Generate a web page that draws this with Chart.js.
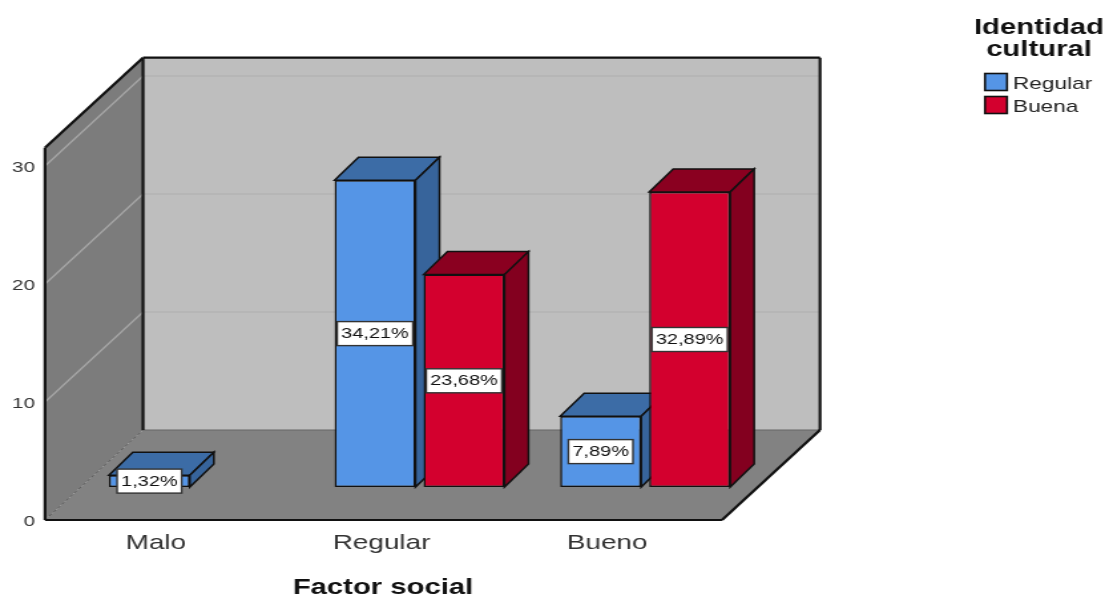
<!DOCTYPE html>
<html>
<head>
<meta charset="utf-8">
<style>
html,body{margin:0;padding:0;background:#fff;overflow:hidden}
#wrap{width:1105px;height:596px;overflow:hidden}
canvas{display:block;transform-origin:0 0;filter:blur(0.45px);}
</style>
<script src="https://cdn.jsdelivr.net/npm/chart.js@4"></script>
</head>
<body>
<div id="wrap"><canvas id="c" width="831" height="596"></canvas></div>
<script>
const categories = ['Malo', 'Regular', 'Bueno'];
const regularValues = [1, 26, 6];
const buenaValues = [null, 18, 25];
const regularPct = ['1,32%', '34,21%', '7,89%'];
const buenaPct = [null, '23,68%', '32,89%'];
const yTicks = [0, 10, 20, 30];
const seriesNames = ['Regular', 'Buena'];
const legendTitle = ['Identidad', 'cultural'];
const xTitle = 'Factor social';

const CW = 831, CH = 596, SX = 1105 / CW;
const px = v => v / SX;                 // screen x -> canvas x
const FONT = '"Liberation Sans", Arial, sans-serif';
const FRONT = { dx: px(-36), dy: 33 };
const BACK = { dx: px(62), dy: -57 };
const BAR = { dx: px(24), dy: -23 };
const WALL_TOP = 31.55;

const canvas = document.getElementById('c');
canvas.style.transform = 'scaleX(' + SX + ')';

function poly(ctx, pts, fill, stroke, lw) {
  ctx.beginPath();
  pts.forEach((p, i) => i ? ctx.lineTo(p[0], p[1]) : ctx.moveTo(p[0], p[1]));
  ctx.closePath();
  if (fill) { ctx.fillStyle = fill; ctx.fill(); }
  if (stroke) { ctx.strokeStyle = stroke; ctx.lineWidth = lw; ctx.stroke(); }
}
function line(ctx, a, b, color, lw, dash) {
  ctx.save();
  ctx.beginPath();
  ctx.moveTo(a[0], a[1]); ctx.lineTo(b[0], b[1]);
  ctx.strokeStyle = color; ctx.lineWidth = lw; ctx.setLineDash(dash || []);
  ctx.stroke();
  ctx.restore();
}

const scene3d = {
  id: 'scene3d',
  beforeDatasetsDraw(chart) {
    const { ctx, chartArea: a, scales: { y } } = chart;
    const t = y.getPixelForValue(WALL_TOP), b = a.bottom;
    const fl = a.left + FRONT.dx, fr = a.right + FRONT.dx, fb = b + FRONT.dy, ft = t + FRONT.dy;
    const bl = a.left + BACK.dx, br = a.right + BACK.dx, bb = b + BACK.dy, bt = t + BACK.dy;
    ctx.save();
    poly(ctx, [[bl, bt], [br, bt], [br, bb], [bl, bb]], '#bebebe');
    poly(ctx, [[fl, ft], [bl, bt], [bl, bb], [fl, fb]], '#7c7c7c');
    poly(ctx, [[fl, fb], [bl, bb], [br, bb], [fr, fb]], '#828282');
    yTicks.slice(1).forEach(v => {
      const p = y.getPixelForValue(v);
      line(ctx, [fl, p + FRONT.dy], [bl, p + BACK.dy], '#a6a6a6', 1.3);
      line(ctx, [bl, p + BACK.dy], [br, p + BACK.dy], '#b3b3b3', 1.3);
    });
    line(ctx, [fl, fb], [bl, bb], '#5c5c5c', 1, [3, 2]);
    line(ctx, [bl, bb], [br, bb], '#666', 1);
    line(ctx, [fl, fb], [fl, ft], '#111', 2.2);
    line(ctx, [fl, ft], [bl, bt], '#111', 2.2);
    line(ctx, [bl, bt], [br, bt], '#111', 2.2);
    line(ctx, [bl, bt], [bl, bb], '#111', 2.2);
    line(ctx, [br, bt], [br, bb], '#111', 2.2);
    line(ctx, [br, bb], [fr, fb], '#111', 2.2);
    line(ctx, [fr, fb], [fl, fb], '#111', 2.2);
    const faces = [['#3c6ca6', '#37649b'], ['#8a0020', '#83001f']];
    chart.data.datasets.forEach((ds, i) => {
      chart.getDatasetMeta(i).data.forEach((el, j) => {
        if (ds.data[j] == null) return;
        const { x, y: top, base, width } = el.getProps(['x', 'y', 'base', 'width'], true);
        const l = x - width / 2, r = x + width / 2;
        poly(ctx, [[l, top], [l + BAR.dx, top + BAR.dy], [r + BAR.dx, top + BAR.dy], [r, top]], faces[i][0], '#111', 1.5);
        poly(ctx, [[r, top], [r + BAR.dx, top + BAR.dy], [r + BAR.dx, base + BAR.dy], [r, base]], faces[i][1], '#111', 1.5);
      });
    });
    ctx.restore();
  },
  afterDatasetsDraw(chart) {
    const { ctx } = chart;
    ctx.save();
    ctx.font = '15px ' + FONT;
    ctx.textAlign = 'center';
    ctx.textBaseline = 'middle';
    [regularPct, buenaPct].forEach((labels, i) => {
      chart.getDatasetMeta(i).data.forEach((el, j) => {
        if (!labels[j]) return;
        const { x, y: top, base } = el.getProps(['x', 'y', 'base'], true);
        const cy = (top + base) / 2;
        const w = ctx.measureText(labels[j]).width + px(8), h = 24;
        ctx.fillStyle = '#fff';
        ctx.fillRect(x - w / 2, cy - h / 2, w, h);
        ctx.strokeStyle = '#333'; ctx.lineWidth = 1.4;
        ctx.strokeRect(x - w / 2, cy - h / 2, w, h);
        ctx.fillStyle = '#111';
        ctx.fillText(labels[j], x, cy + 0.5);
      });
    });
    ctx.restore();
  },
  afterDraw(chart) {
    const { ctx } = chart;
    ctx.save();
    ctx.textBaseline = 'middle';
    ctx.fillStyle = '#111';
    ctx.textAlign = 'center';
    ctx.font = 'bold 22px ' + FONT;
    ctx.fillText(xTitle, px(383), 588);
    ctx.fillText(legendTitle[0], px(1039), 28);
    ctx.fillText(legendTitle[1], px(1039), 50);
    ctx.textAlign = 'left';
    ctx.font = '17px ' + FONT;
    const rows = [82, 105];
    chart.data.datasets.forEach((ds, i) => {
      const ry = rows[i];
      ctx.fillStyle = ds.backgroundColor;
      ctx.fillRect(px(985), ry - 8.5, px(22), 17);
      ctx.strokeStyle = '#111'; ctx.lineWidth = 1.6;
      ctx.strokeRect(px(985), ry - 8.5, px(22), 17);
      ctx.fillStyle = '#222';
      ctx.fillText(ds.label, px(1013), ry + 2);
    });
    ctx.restore();
  }
};

new Chart(canvas, {
  type: 'bar',
  data: {
    labels: categories,
    datasets: [
      { label: seriesNames[0], data: regularValues, backgroundColor: '#5595e6', borderColor: '#111', borderWidth: 1.5, borderSkipped: false },
      { label: seriesNames[1], data: buenaValues, backgroundColor: '#d3002e', borderColor: '#111', borderWidth: 1.5, borderSkipped: false }
    ]
  },
  options: {
    responsive: false,
    animation: false,
    devicePixelRatio: 1,
    categoryPercentage: 0.7887,
    barPercentage: 0.91,
    layout: { autoPadding: false, padding: { top: 133, right: px(1105 - 758), left: 0, bottom: 0 } },
    plugins: { legend: { display: false }, tooltip: { enabled: false } },
    scales: {
      x: {
        grid: { display: false, drawTicks: false }, border: { display: false },
        afterFit: s => { s.height = 109; },
        ticks: { autoSkip: false, maxRotation: 0, minRotation: 0, labelOffset: px(-38), padding: 44,
                 color: '#333', font: { family: FONT, size: 21 } }
      },
      y: {
        min: 0, max: 30,
        grid: { display: false, drawTicks: false }, border: { display: false },
        afterFit: s => { s.width = px(81); },
        afterBuildTicks: s => { s.ticks = yTicks.map(v => ({ value: v })); },
        ticks: { labelOffset: 35, padding: px(46), color: '#333', font: { family: FONT, size: 15.5 } }
      }
    }
  },
  plugins: [scene3d]
});
</script>
</body>
</html>
